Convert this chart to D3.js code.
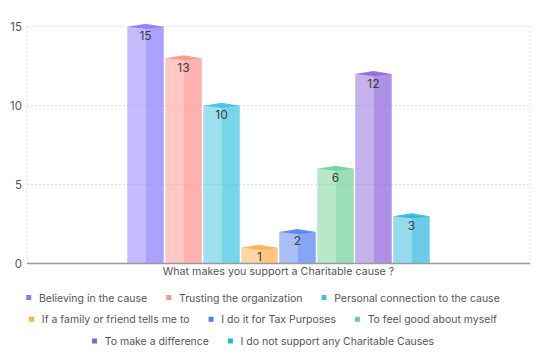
<!DOCTYPE html>
<html>
<head>
<meta charset="utf-8">
<script src="https://cdn.jsdelivr.net/npm/d3@7"></script>
<style>
  html, body { margin: 0; padding: 0; background: #fff; }
  svg { display: block; font-family: Inter, "Noto Sans", sans-serif; }
</style>
</head>
<body>
<svg id="chart" width="539" height="360"></svg>
<script>
const category = "What makes you support a Charitable cause ?";
const seriesNames = [
  "Believing in the cause",
  "Trusting the organization",
  "Personal connection to the cause",
  "If a family or friend tells me to",
  "I do it for Tax Purposes",
  "To feel good about myself",
  "To make a difference",
  "I do not support any Charitable Causes"
];
const seriesValues = [15, 13, 10, 1, 2, 6, 12, 3];
const seriesColors = ["#8979FF", "#FF928A", "#3CC3DF", "#FFAE4C", "#537FF1", "#6FD195", "#8C63DA", "#2BB7DC"];
const yTicks = [0, 5, 10, 15];
const legendRows = [[0, 1, 2], [3, 4, 5], [6, 7]];

const svg = d3.select("#chart");
const plotLeft = 27, plotRight = 530, plotTop = 26.7, plotBottom = 263.5;

const y = d3.scaleLinear().domain([0, 15]).range([plotBottom, plotTop]);
const x0 = d3.scaleBand().domain([category]).range([plotLeft, plotRight]).paddingInner(0.2467).paddingOuter(0.2467);
const x1 = d3.scaleBand().domain(seriesNames).range([0, x0.bandwidth()]).paddingInner(0.04).paddingOuter(0.02);

// grid
svg.append("g").selectAll("line").data(yTicks.filter(t => t > 0)).join("line")
  .attr("x1", plotLeft).attr("x2", plotRight)
  .attr("y1", d => y(d)).attr("y2", d => y(d))
  .attr("stroke", "#dcdcdc").attr("stroke-width", 1).attr("stroke-dasharray", "2,2");
svg.append("g").selectAll("line").data([plotLeft, plotRight]).join("line")
  .attr("x1", d => d).attr("x2", d => d)
  .attr("y1", plotTop).attr("y2", plotBottom)
  .attr("stroke", "#dcdcdc").attr("stroke-width", 1).attr("stroke-dasharray", "2,2");

// y axis labels
const yAxis = d3.axisLeft(y).tickValues(yTicks).tickSize(0).tickPadding(5);
const yg = svg.append("g").attr("transform", `translate(${plotLeft},0)`).call(yAxis);
yg.select(".domain").remove();
yg.selectAll("text").attr("fill", "#555").style("font-size", "11.5px").style("font-family", "Inter, sans-serif");

// bars
const gx = x0(category);
const bars = svg.append("g").selectAll("g").data(seriesNames).join("g")
  .attr("transform", d => `translate(${gx + x1(d)},0)`);
const bw = x1.bandwidth();
bars.append("rect")
  .attr("x", 0).attr("width", bw / 2)
  .attr("y", (d, i) => y(seriesValues[i])).attr("height", (d, i) => y(0) - y(seriesValues[i]))
  .attr("fill", (d, i) => seriesColors[i]).attr("fill-opacity", 0.5);
bars.append("rect")
  .attr("x", bw / 2).attr("width", bw / 2)
  .attr("y", (d, i) => y(seriesValues[i])).attr("height", (d, i) => y(0) - y(seriesValues[i]))
  .attr("fill", (d, i) => seriesColors[i]).attr("fill-opacity", 0.7);
bars.append("path")
  .attr("d", (d, i) => {
    const t = y(seriesValues[i]);
    return `M0,${t} L${bw / 2},${t - 3} L${bw},${t} L${bw / 2},${t + 2} Z`;
  })
  .attr("fill", (d, i) => seriesColors[i]).attr("fill-opacity", 0.9);
bars.append("text")
  .attr("x", bw / 2).attr("y", (d, i) => y(seriesValues[i]) + 13.5)
  .attr("text-anchor", "middle").attr("fill", "#3a3a3a").style("font-size", "12px")
  .text((d, i) => seriesValues[i]);

// baseline
svg.append("line").attr("x1", plotLeft).attr("x2", plotRight).attr("y1", plotBottom).attr("y2", plotBottom)
  .attr("stroke", "#9a9aa5").attr("stroke-width", 1.5);

// x axis title
svg.append("text").attr("x", gx + x0.bandwidth() / 2).attr("y", 275)
  .attr("text-anchor", "middle").attr("fill", "#555").style("font-size", "10.7px")
  .text(category);

// legend
const legendCenter = 263;
const rowYs = [297.5, 319.3, 341];
const lg = svg.append("g");
legendRows.forEach((row, ri) => {
  const items = row.map(i => {
    const t = lg.append("text").attr("y", rowYs[ri] + 4).attr("fill", "#555").style("font-size", "10.5px").text(seriesNames[i]);
    return { i, t, w: t.node().getComputedTextLength() };
  });
  const mk = 5, gap1 = 7.7, gap2 = 19;
  const total = d3.sum(items, d => mk + gap1 + d.w) + gap2 * (items.length - 1);
  let cx = legendCenter - total / 2;
  items.forEach(d => {
    lg.append("rect").attr("x", cx).attr("y", rowYs[ri] - 2.5).attr("width", mk).attr("height", mk)
      .attr("fill", seriesColors[d.i]);
    d.t.attr("x", cx + mk + gap1);
    cx += mk + gap1 + d.w + gap2;
  });
});
</script>
</body>
</html>
